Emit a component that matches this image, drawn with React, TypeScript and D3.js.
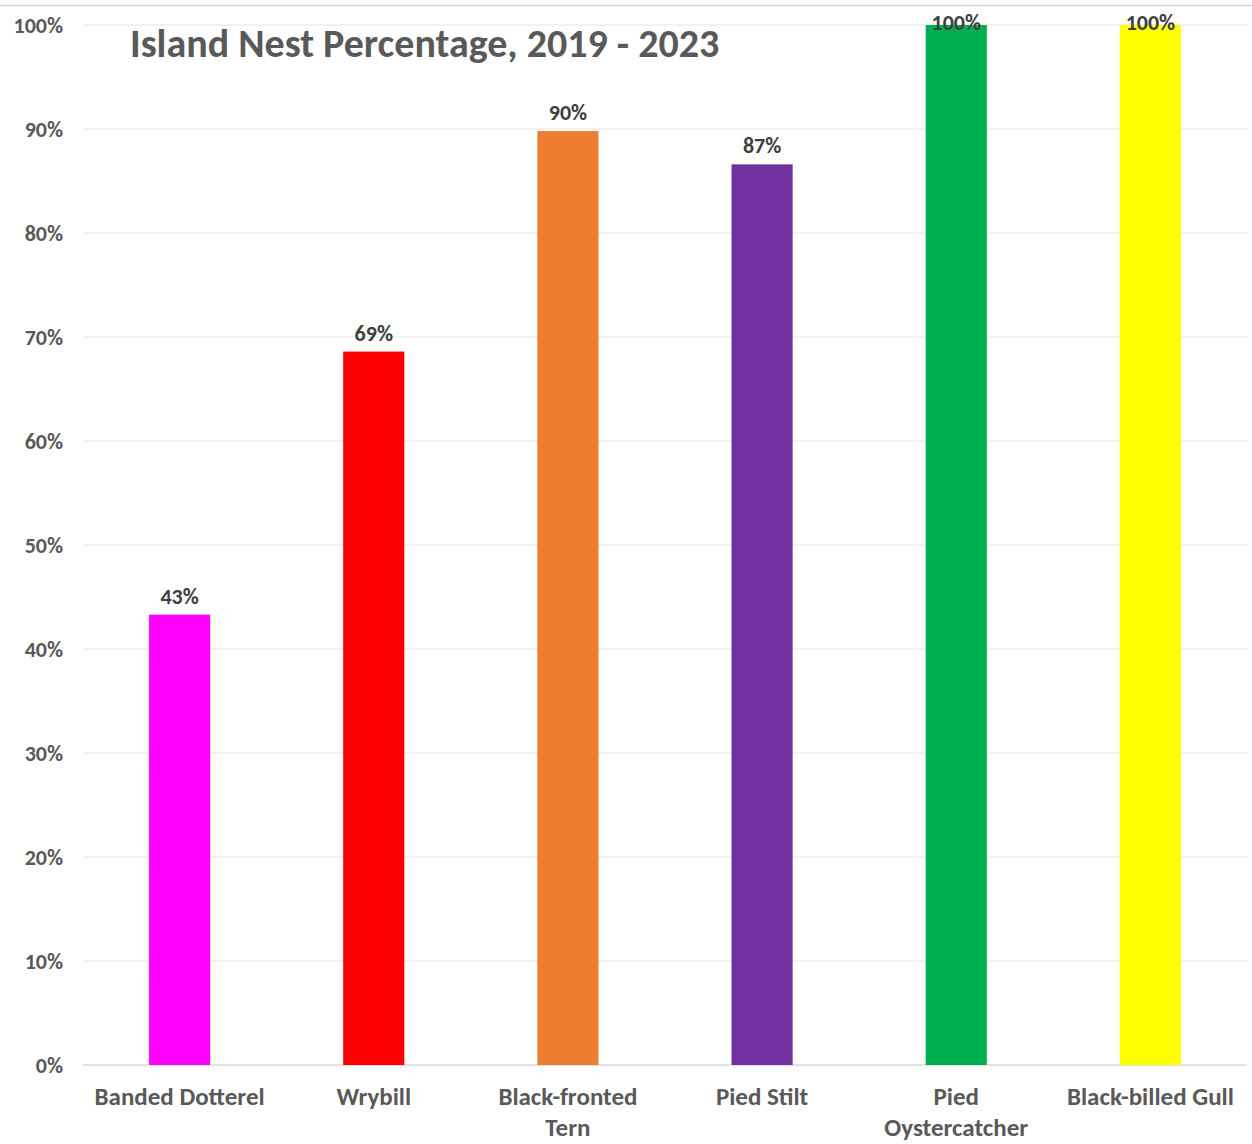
import React from 'react';
import * as d3 from 'd3';

const birds = ['Banded Dotterel', 'Wrybill', 'Black-fronted Tern', 'Pied Stilt', 'Pied Oystercatcher', 'Black-billed Gull'];
const nestPct = [43.3, 68.6, 89.8, 86.6, 100, 100];
const barColors = ['#FF00FF', '#FF0000', '#ED7D31', '#7030A0', '#00B050', '#FFFF00'];
const yTicks = [0, 10, 20, 30, 40, 50, 60, 70, 80, 90, 100];
// labels broken in two lines like the original
const birdLines: string[][] = [
  ['Banded Dotterel'],
  ['Wrybill'],
  ['Black-fronted', 'Tern'],
  ['Pied Stilt'],
  ['Pied', 'Oystercatcher'],
  ['Black-billed Gull'],
];

const W = 1252;
const H = 1144;
const FONT = "Carlito, Lato, 'Open Sans', sans-serif";

const App: React.FC = () => {
  const x = d3.scaleBand<string>().domain(birds).range([83, 1247]).paddingInner(0.685).paddingOuter(0.34);
  const y = d3.scaleLinear().domain([0, 100]).range([1065, 25]);

  return (
    <svg
      width={W}
      height={H}
      style={{ position: 'absolute', left: 0, top: 0, background: '#fff' }}
      fontFamily={FONT}
    >
      <line x1={0} x2={W} y1={5.5} y2={5.5} stroke="#d9d9d9" strokeWidth={1.5} />
      {yTicks.map((t) => (
        <g key={t}>
          <line x1={83} x2={1247} y1={y(t)} y2={y(t)} stroke={t === 0 ? '#d9d9d9' : '#e3e3e3'} strokeWidth={t === 0 ? 1.5 : 1} />
          <text x={63} y={y(t)} dy="0.35em" textAnchor="end" fontSize={22} fontWeight="bold" fill="#595959">
            {t}%
          </text>
        </g>
      ))}
      {birds.map((b, i) => (
        <g key={b}>
          <rect x={x(b)} y={y(nestPct[i])} width={x.bandwidth()} height={y(0) - y(nestPct[i])} fill={barColors[i]} />
          <text
            x={(x(b) || 0) + x.bandwidth() / 2}
            y={Math.max(y(nestPct[i]) - 11, 30)}
            textAnchor="middle"
            fontSize={22}
            fontWeight="bold"
            fill="#404040"
          >
            {Math.round(nestPct[i])}%
          </text>
          {birdLines[i].map((ln, j) => (
            <text
              key={j}
              x={(x(b) || 0) + x.bandwidth() / 2}
              y={1105 + j * 31}
              textAnchor="middle"
              fontSize={25}
              fontWeight="bold"
              fill="#595959"
            >
              {ln}
            </text>
          ))}
        </g>
      ))}
      <text x={130} y={57} fontSize={40} fontWeight="bold" fill="#595959">
        Island Nest Percentage, 2019 - 2023
      </text>
    </svg>
  );
};

export default App;
